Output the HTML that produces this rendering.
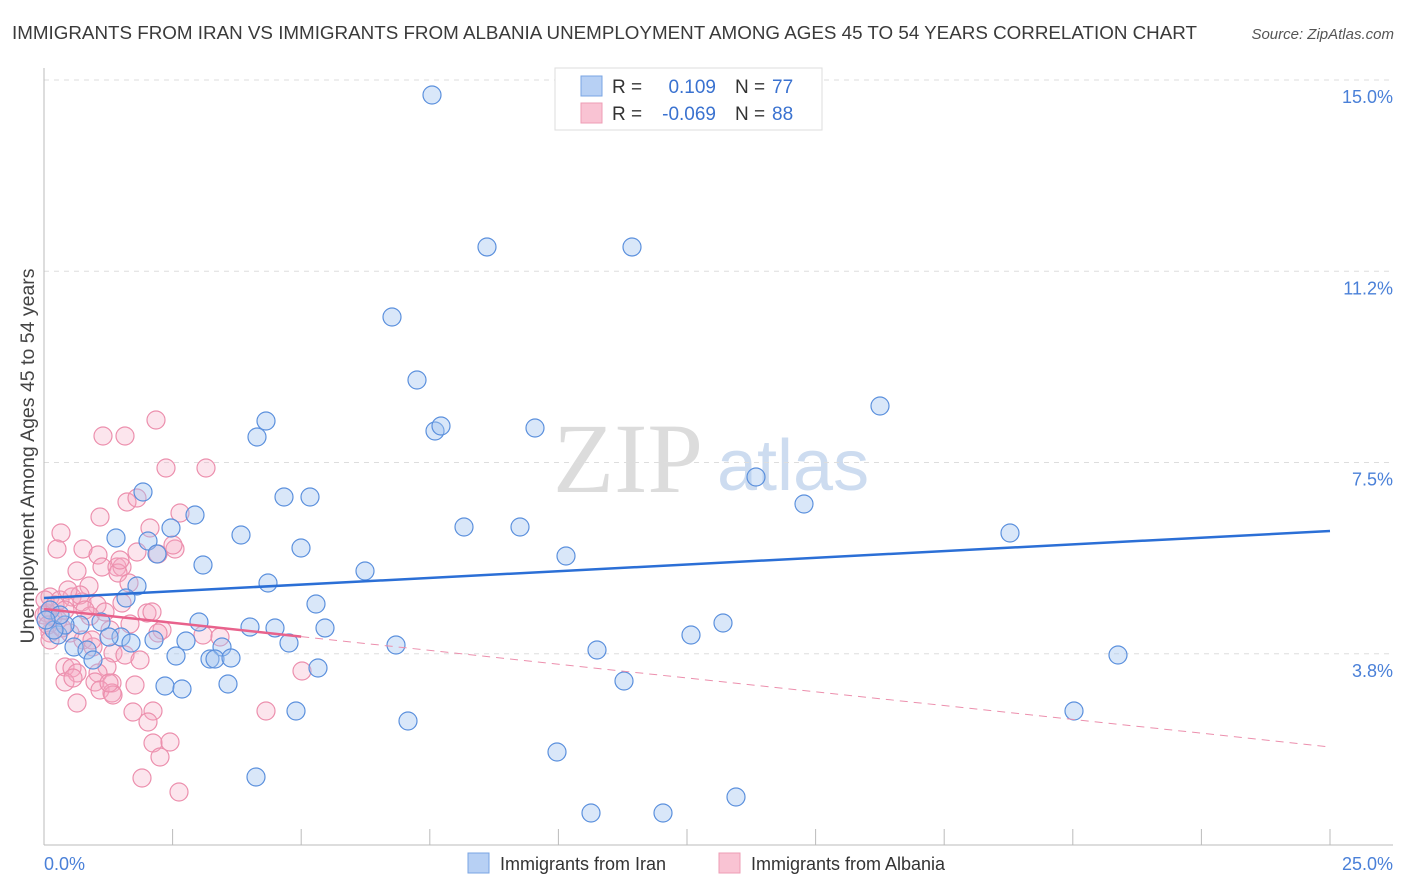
<!DOCTYPE html>
<html><head><meta charset="utf-8"><style>
body{margin:0;background:#fff;font-family:"Liberation Sans",sans-serif}
svg{display:block}
</style></head><body>
<svg id="c" width="1406" height="892" xmlns="http://www.w3.org/2000/svg">
<text x="12" y="39" font-size="18" fill="#3a3a3a" textLength="1185" lengthAdjust="spacingAndGlyphs">IMMIGRANTS FROM IRAN VS IMMIGRANTS FROM ALBANIA UNEMPLOYMENT AMONG AGES 45 TO 54 YEARS CORRELATION CHART</text>
<text x="1394" y="39" font-size="15" font-style="italic" fill="#555" text-anchor="end">Source: ZipAtlas.com</text>
<g>
<text x="553" y="492" font-family="Liberation Serif,serif" font-size="100" fill="#dcdcdc">ZIP</text>
<text x="717" y="490" font-size="72" fill="#cddcf0">atlas</text>
</g>
<g id="grid"></g>
<g id="axes"></g>
<g id="pts"></g>
<g id="trend"></g>
<text transform="translate(34,456) rotate(-90)" font-size="19.5" fill="#444" text-anchor="middle">Unemployment Among Ages 45 to 54 years</text>
<g>
<rect x="555" y="68" width="267" height="62" fill="#fff" stroke="#ddd"/>
<rect x="581" y="76" width="21" height="20" fill="#b7d0f4" stroke="#7aa5e3"/>
<rect x="581" y="103" width="21" height="20" fill="#f9c3d3" stroke="#ee9db5"/>
<text x="612" y="93" font-size="19" fill="#333">R =</text>
<text x="716" y="93" font-size="19" fill="#3a72d0" text-anchor="end">0.109</text>
<text x="735" y="93" font-size="19" fill="#333">N =</text>
<text x="772" y="93" font-size="19" fill="#3a72d0">77</text>
<text x="612" y="120" font-size="19" fill="#333">R =</text>
<text x="716" y="120" font-size="19" fill="#3a72d0" text-anchor="end">-0.069</text>
<text x="735" y="120" font-size="19" fill="#333">N =</text>
<text x="772" y="120" font-size="19" fill="#3a72d0">88</text>
</g>
<g>
<rect x="468" y="853" width="21" height="20" fill="#b7d0f4" stroke="#7aa5e3"/>
<text x="500" y="870" font-size="18" fill="#333">Immigrants from Iran</text>
<rect x="719" y="853" width="21" height="20" fill="#f9c3d3" stroke="#ee9db5"/>
<text x="751" y="870" font-size="18" fill="#333">Immigrants from Albania</text>
</g>
</svg>
<script>
const yTicks=[3.75,7.5,11.25,15];
const yTickLabels=["3.8%","7.5%","11.2%","15.0%"];
const xTickVals=[0,2.5,5,7.5,10,12.5,15,17.5,20,22.5,25];
const xLabels=["0.0%","25.0%"];
const iranPx=[[432,95],[487,247],[632,247],[392,317],[417,380],[880,406],[266,421],[435,431],[441,426],[535,428],[257,437],[756,477],[143,492],[804,504],[284,497],[310,497],[195,515],[464,527],[520,527],[171,528],[241,535],[1010,533],[116,538],[148,541],[301,548],[157,554],[566,556],[203,565],[365,571],[137,586],[268,583],[126,598],[316,604],[199,622],[723,623],[691,635],[325,628],[250,627],[275,628],[101,622],[80,625],[121,637],[154,640],[109,637],[186,641],[131,643],[289,643],[396,645],[222,647],[58,635],[65,625],[74,647],[54,630],[87,650],[1118,655],[597,650],[176,656],[93,660],[210,659],[215,659],[231,658],[318,668],[624,681],[165,686],[182,689],[228,684],[296,711],[1074,711],[408,721],[557,752],[256,777],[591,813],[663,813],[736,797],[50,610],[60,615],[46,620]];
const albaniaPx=[[156,420],[103,436],[125,436],[166,468],[206,468],[127,502],[137,498],[100,517],[180,513],[61,533],[57,549],[83,549],[98,555],[77,571],[102,567],[117,567],[122,567],[118,573],[137,552],[158,554],[175,549],[89,586],[129,583],[50,597],[60,600],[72,597],[82,602],[97,605],[122,603],[147,613],[152,612],[47,613],[53,617],[58,620],[90,616],[130,624],[162,630],[158,633],[203,635],[220,637],[50,633],[70,633],[83,640],[93,647],[113,653],[125,655],[50,640],[65,667],[72,668],[77,673],[107,667],[98,673],[65,682],[73,678],[95,682],[112,683],[100,690],[112,693],[113,695],[135,685],[77,703],[133,712],[153,711],[148,722],[153,743],[170,742],[160,757],[142,778],[179,792],[266,711],[302,671],[109,683],[45,600],[55,605],[65,610],[80,595],[44,615],[48,625],[62,628],[85,610],[110,630],[140,660],[120,560],[150,528],[173,545],[92,640],[105,612],[68,590]];
const iranX=iranPx.map(p=>(p[0]-44)/51.44), iranY=iranPx.map(p=>15-(p[1]-80)/51);
const albaniaX=albaniaPx.map(p=>(p[0]-44)/51.44), albaniaY=albaniaPx.map(p=>15-(p[1]-80)/51);
const iranTrend=[4.843,6.157];
const albaniaTrend=[4.627,1.922];
const X=v=>44+v*51.44, Y=v=>845-v*51;
const NS="http://www.w3.org/2000/svg";
function mk(t,a,parent){const e=document.createElementNS(NS,t);for(const k in a)e.setAttribute(k,a[k]);document.getElementById(parent).appendChild(e);return e;}
yTicks.forEach((v,i)=>{
 const l=mk('line',{x1:44,x2:1393,y1:Y(v),y2:Y(v),stroke:'#ddd','stroke-dasharray':'5,5'},'grid');
 
 
 const t=mk('text',{x:1393,y:Y(v)+23,'font-size':18,fill:'#4a80d8','text-anchor':'end'},'grid');
 t.textContent=yTickLabels[i];
 
 
});
let a=mk('line',{x1:44,x2:44,y1:68,y2:845,stroke:'#bbb'},'axes');


a=mk('line',{x1:44,x2:1393,y1:845,y2:845,stroke:'#bbb'},'axes');


xTickVals.forEach(v=>{const t=mk('line',{x1:X(v),x2:X(v),y1:829,y2:845,stroke:'#bbb'},'axes');
 
 });
let xl=mk('text',{x:44,y:870,'font-size':18,fill:'#4a80d8'},'axes');xl.textContent=xLabels[0];


xl=mk('text',{x:1393,y:870,'font-size':18,fill:'#4a80d8','text-anchor':'end'},'axes');xl.textContent=xLabels[1];


albaniaX.forEach((x,i)=>{const c=mk('circle',{cx:X(x),cy:Y(albaniaY[i]),r:9,fill:'rgba(245,170,195,0.3)',stroke:'#ec8fad','stroke-width':1.2},'pts');
 
 });
iranX.forEach((x,i)=>{const c=mk('circle',{cx:X(x),cy:Y(iranY[i]),r:9,fill:'rgba(160,195,240,0.4)',stroke:'#5b90dd','stroke-width':1.2},'pts');
 
 });
let t=mk('line',{x1:X(0),y1:Y(iranTrend[0]),x2:X(25),y2:Y(iranTrend[1]),stroke:'#2b6fd6','stroke-width':2.5},'trend');


const pa=v=>albaniaTrend[0]+(albaniaTrend[1]-albaniaTrend[0])*v/25;
t=mk('line',{x1:X(0),y1:Y(pa(0)),x2:X(5),y2:Y(pa(5)),stroke:'#e8628c','stroke-width':2.5},'trend');


t=mk('line',{x1:X(5),y1:Y(pa(5)),x2:X(25),y2:Y(pa(25)),stroke:'#ec8fad','stroke-width':1,'stroke-dasharray':'8,6'},'trend');


</script>
</body></html>
